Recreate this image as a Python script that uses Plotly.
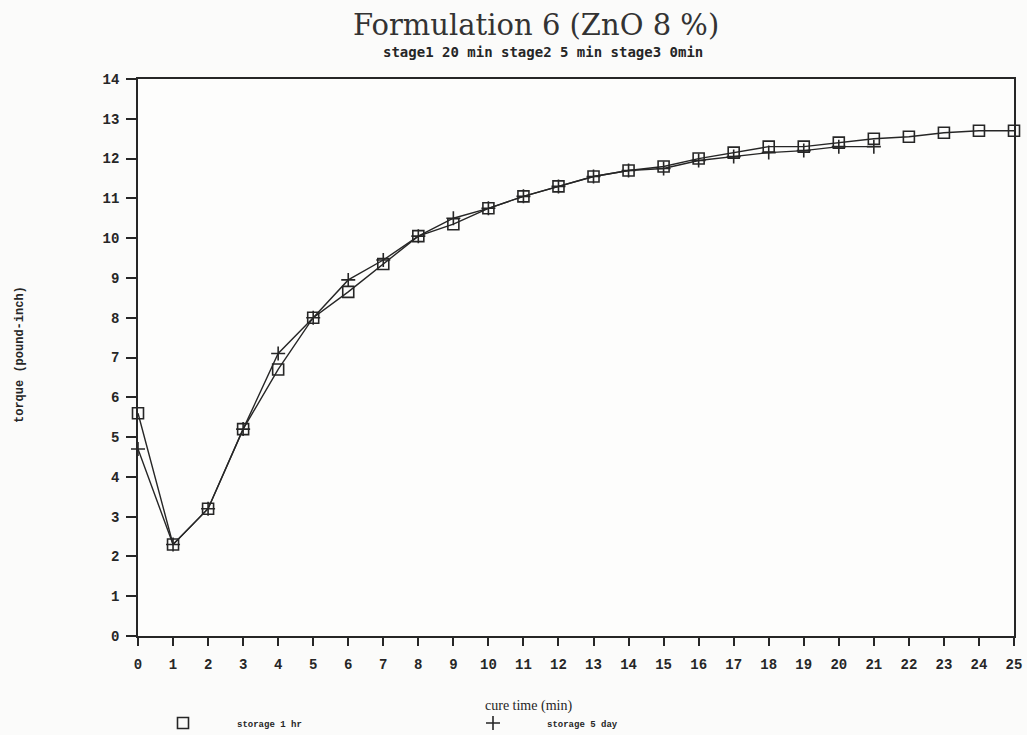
import plotly.graph_objects as go

# ---- data ----
time_1hr = list(range(26))
storage_1hr = [5.6, 2.3, 3.2, 5.2, 6.7, 8.0, 8.65, 9.35, 10.05, 10.35, 10.75,
               11.05, 11.3, 11.55, 11.7, 11.8, 12.0, 12.15, 12.3, 12.3, 12.4,
               12.5, 12.55, 12.65, 12.7, 12.7]
time_5day = list(range(22))
storage_5day = [4.7, 2.3, 3.2, 5.2, 7.1, 8.0, 8.95, 9.45, 10.05, 10.5, 10.75,
                11.05, 11.3, 11.55, 11.7, 11.75, 11.95, 12.05, 12.15, 12.2,
                12.3, 12.3]
x_ticks = list(range(0, 26))
y_ticks = list(range(0, 15))

title_text = "Formulation 6 (ZnO 8 %)"
subtitle_text = "stage1 20 min stage2 5 min stage3 0min"
x_title = "cure time (min)"
y_title = "torque (pound-inch)"
name_1hr = "storage 1 hr"
name_5day = "storage 5 day"

# ---- layout geometry ----
W, H = 1027, 735
ML, MR, MT, MB = 138, 13, 79, 99
PW, PH = W - ML - MR, H - MT - MB
INK = "#262626"


def px(x, y):
    return (x - ML) / PW, 1 - (y - MT) / PH


fig = go.Figure()

# connecting lines
fig.add_trace(go.Scatter(x=time_1hr, y=storage_1hr, mode="lines",
                         line=dict(color=INK, width=1.4), showlegend=False,
                         hoverinfo="skip"))
fig.add_trace(go.Scatter(x=time_5day, y=storage_5day, mode="lines",
                         line=dict(color=INK, width=1.4), showlegend=False,
                         hoverinfo="skip"))
# markers (legend entries)
fig.add_trace(go.Scatter(x=time_1hr, y=storage_1hr, mode="markers",
                         name=name_1hr, cliponaxis=False,
                         marker=dict(symbol="square-open", size=11, color=INK,
                                     line=dict(width=1.6, color=INK))))
fig.add_trace(go.Scatter(x=time_5day, y=storage_5day, mode="markers",
                         name=name_5day, cliponaxis=False,
                         marker=dict(symbol="cross-thin", size=10, color=INK,
                                     line=dict(width=1.6, color=INK))))

tick_font = dict(family="Liberation Mono", size=14, color=INK, weight="bold")

fig.update_xaxes(range=[0, 25], tickmode="array", tickvals=x_ticks,
                 ticktext=[str(v) for v in x_ticks],
                 showline=True, linecolor=INK, linewidth=1.8, mirror=True,
                 ticks="outside", ticklen=8, tickwidth=1.5, tickcolor=INK,
                 ticklabelstandoff=6, showgrid=False, zeroline=False,
                 tickfont=tick_font)
fig.update_yaxes(range=[0, 14], tickmode="array", tickvals=y_ticks,
                 ticktext=[str(v) for v in y_ticks],
                 showline=True, linecolor=INK, linewidth=1.8, mirror=True,
                 ticks="outside", ticklen=10, tickwidth=1.5, tickcolor=INK,
                 ticklabelstandoff=4, showgrid=False, zeroline=False,
                 tickfont=tick_font)

annotations = []
ax, ay = px(536, 25)
annotations.append(dict(text=title_text, x=ax, y=ay, xref="paper", yref="paper",
                        showarrow=False, xanchor="center", yanchor="middle",
                        font=dict(family="DejaVu Serif", size=29, color="#333333")))
ax, ay = px(543, 52)
annotations.append(dict(text=subtitle_text, x=ax, y=ay, xref="paper", yref="paper",
                        showarrow=False, xanchor="center", yanchor="middle",
                        font=dict(family="DejaVu Sans Mono", size=14, color=INK,
                                  weight="bold")))
ax, ay = px(20, 355)
annotations.append(dict(text=y_title, x=ax, y=ay, xref="paper", yref="paper",
                        showarrow=False, xanchor="center", yanchor="middle",
                        textangle=-90,
                        font=dict(family="Liberation Mono", size=12, color=INK,
                                  weight="bold")))
ax, ay = px(528, 706)
annotations.append(dict(text=x_title, x=ax, y=ay, xref="paper", yref="paper",
                        showarrow=False, xanchor="center", yanchor="middle",
                        font=dict(family="Liberation Serif", size=14, color=INK)))

lx, ly = px(129, 723)
fig.update_layout(
    width=W, height=H,
    margin=dict(l=ML, r=MR, t=MT, b=MB, autoexpand=False),
    paper_bgcolor="#fbfbfa", plot_bgcolor="#fdfdfc",
    annotations=annotations,
    showlegend=True,
    legend=dict(orientation="h", x=lx, y=ly, xanchor="left", yanchor="middle",
                xref="paper", yref="paper",
                entrywidth=197, entrywidthmode="pixels", itemwidth=98,
                bgcolor="rgba(0,0,0,0)",
                font=dict(family="Liberation Mono", size=9, color=INK,
                          weight="bold")),
)

fig.write_html("out.html", config={"displayModeBar": False},
               post_script="document.body.style.margin='0px';"
                           "document.body.style.overflow='hidden';")
